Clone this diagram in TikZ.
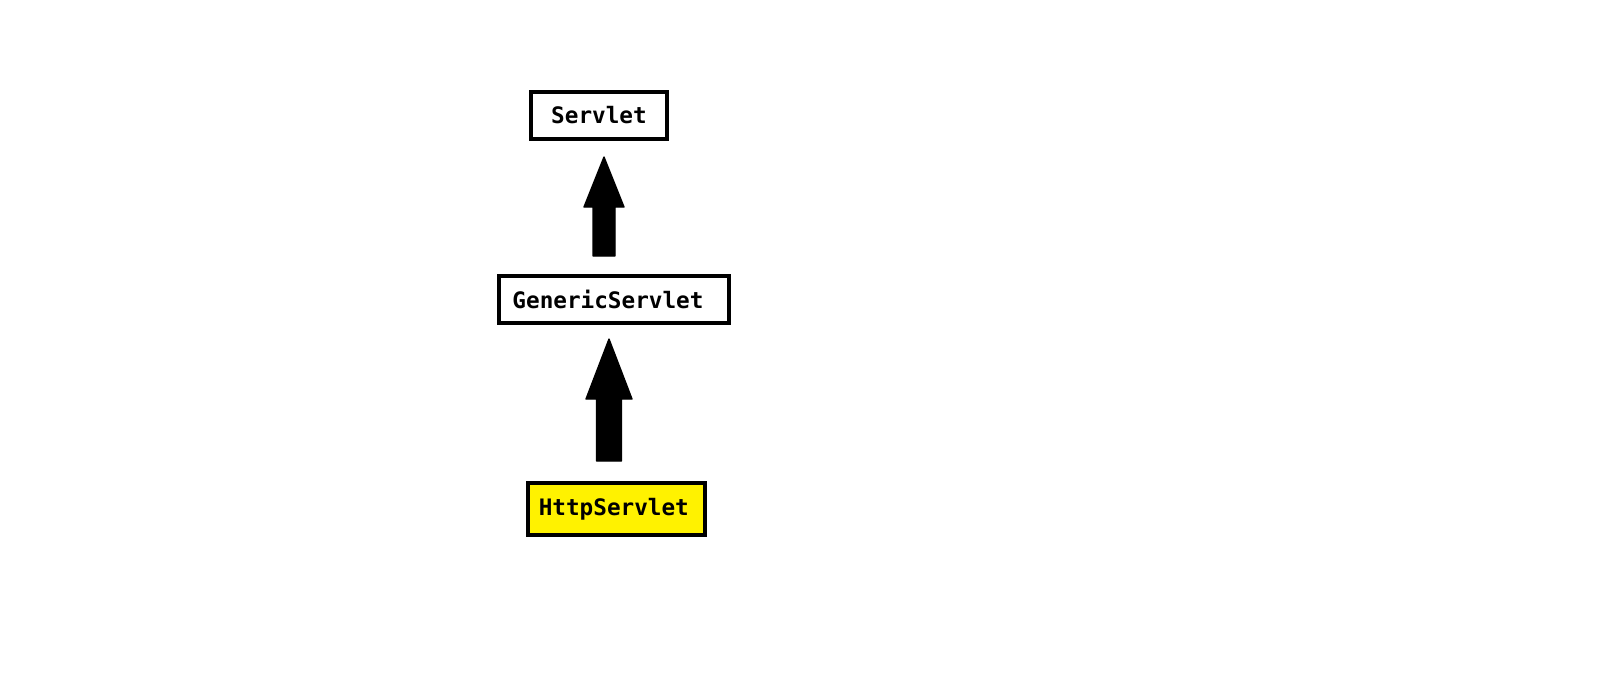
\documentclass[tikz,border=0pt]{standalone}
\usepackage{fontspec}
\setmonofont{DejaVu Sans Mono}
\tikzset{
  classbox/.style={draw=black,line width=3pt,inner sep=0pt,
    font=\ttfamily\bfseries\fontsize{17}{20}\selectfont},
  uparrow/.style={fill=black,draw=black,line width=1pt,line join=round}
}
\begin{document}
\begin{tikzpicture}[x=0.75pt,y=-0.75pt]
  \useasboundingbox[fill=white] (0,0) rectangle (1600,685);
  \node[classbox,minimum width=102pt,minimum height=35.25pt] (servlet) at (599,115.5) {Servlet};
  \node[classbox,minimum width=172.5pt,minimum height=35.25pt] (generic) at (614,299.5) {GenericServlet\kern9pt};
  \node[classbox,fill=yellow,minimum width=132.75pt,minimum height=39pt] (http) at (616.5,509) {HttpServlet\kern4pt};
  \filldraw[uparrow] (604,157) -- (624,207) -- (615,207) -- (615,256) -- (593,256) -- (593,207) -- (584,207) -- cycle;
  \filldraw[uparrow] (609,339) -- (632,399) -- (621.5,399) -- (621.5,461) -- (596.5,461) -- (596.5,399) -- (586,399) -- cycle;
\end{tikzpicture}
\end{document}
